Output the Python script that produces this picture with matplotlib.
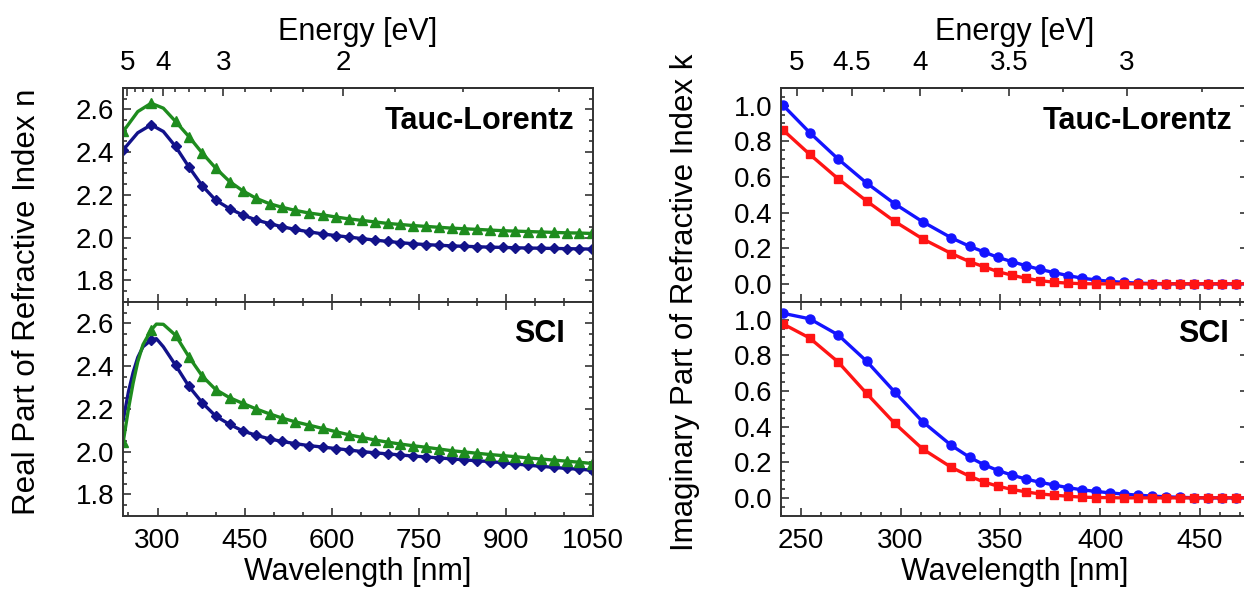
import numpy as np
import matplotlib
matplotlib.use("Agg")
import matplotlib.pyplot as plt
from matplotlib.ticker import MultipleLocator

plt.rcParams['font.family'] = ['Liberation Sans', 'DejaVu Sans']

# ---- real part n (left) ----
wl_n_tl = [241, 266, 289, 310, 331, 354, 377, 400, 424, 447, 470, 493, 515, 537,
           560, 584, 607, 630, 652, 674, 696, 718, 740, 762, 784, 806, 828, 850,
           872, 894, 916, 938, 960, 982, 1004, 1026, 1048]
n_tl_green = [2.496, 2.589, 2.628, 2.605, 2.543, 2.472, 2.395, 2.325, 2.262, 2.218,
              2.183, 2.158, 2.141, 2.127, 2.115, 2.106, 2.096, 2.087, 2.080, 2.073,
              2.066, 2.061, 2.056, 2.052, 2.048, 2.044, 2.041, 2.038, 2.035, 2.032,
              2.030, 2.028, 2.026, 2.024, 2.022, 2.021, 2.019]
n_tl_navy = [2.410, 2.490, 2.527, 2.496, 2.426, 2.330, 2.242, 2.175, 2.135, 2.105,
             2.082, 2.065, 2.050, 2.038, 2.027, 2.017, 2.009, 2.002, 1.995, 1.988,
             1.982, 1.976, 1.971, 1.967, 1.964, 1.961, 1.959, 1.957, 1.955, 1.954,
             1.952, 1.951, 1.950, 1.949, 1.948, 1.947, 1.946]

wl_n_sci = [241, 250, 258, 266, 275, 289, 298, 310, 331, 354, 377, 400, 424, 447,
            470, 493, 515, 537, 560, 584, 607, 630, 652, 674, 696, 718, 740, 762,
            784, 806, 828, 850, 872, 894, 916, 938, 960, 982, 1004, 1026, 1048]
n_sci_green = [2.046, 2.200, 2.320, 2.420, 2.500, 2.568, 2.596, 2.595, 2.544, 2.443,
               2.353, 2.290, 2.252, 2.225, 2.199, 2.176, 2.156, 2.139, 2.124, 2.108,
               2.093, 2.078, 2.066, 2.054, 2.044, 2.035, 2.027, 2.020, 2.012, 2.004,
               1.998, 1.992, 1.986, 1.981, 1.976, 1.970, 1.965, 1.960, 1.955, 1.950,
               1.944]
n_sci_navy = [2.147, 2.280, 2.370, 2.440, 2.490, 2.521, 2.528, 2.490, 2.404, 2.305,
              2.228, 2.166, 2.127, 2.096, 2.076, 2.059, 2.047, 2.037, 2.028, 2.021,
              2.014, 2.007, 2.000, 1.994, 1.989, 1.984, 1.979, 1.975, 1.970, 1.966,
              1.961, 1.957, 1.953, 1.948, 1.942, 1.936, 1.931, 1.926, 1.921, 1.917,
              1.913]

# ---- imaginary part k (right) ----
wl_k = [241, 254.5, 268.7, 283, 297, 311, 325.5, 334.7, 341.8, 348.9, 356, 363, 370,
        377, 384, 391, 398, 405, 412, 419, 426, 433, 440, 447, 454, 461, 468, 475]
k_tl_blue = [1.004, 0.849, 0.701, 0.566, 0.450, 0.349, 0.258, 0.210, 0.179, 0.148,
             0.124, 0.101, 0.081, 0.063, 0.046, 0.032, 0.022, 0.014, 0.008, 0.004,
             0.002, 0.001, 0.0, 0.0, 0.0, 0.0, 0.0, 0.0]
k_tl_red = [0.865, 0.727, 0.590, 0.465, 0.351, 0.253, 0.170, 0.124, 0.096, 0.068,
            0.048, 0.031, 0.018, 0.009, 0.004, 0.001, 0.0, 0.0, 0.0, 0.0, 0.0, 0.0,
            0.0, 0.0, 0.0, 0.0, 0.0, 0.0]
k_sci_blue = [1.036, 1.005, 0.915, 0.767, 0.595, 0.428, 0.294, 0.227, 0.186, 0.153,
              0.127, 0.105, 0.087, 0.072, 0.057, 0.045, 0.036, 0.028, 0.021, 0.015,
              0.010, 0.006, 0.003, 0.001, 0.0, 0.0, 0.0, 0.0]
k_sci_red = [0.977, 0.897, 0.763, 0.586, 0.419, 0.275, 0.171, 0.121, 0.089, 0.065,
             0.047, 0.033, 0.022, 0.015, 0.009, 0.004, 0.002, 0.001, 0.0, 0.0, 0.0,
             0.0, 0.0, 0.0, 0.0, 0.0, 0.0, 0.0]

NAVY = '#12128a'
GREEN = '#1e8c1e'
BLUE = '#1414ff'
RED = '#ff1414'
HC = 1239.84  # eV*nm


def nm2ev(x):
    x = np.asarray(x, dtype=float)
    with np.errstate(divide='ignore'):
        return HC / x


def style_axis(ax, xmaj, xmin, ymaj, ymin, top_ticks):
    ax.xaxis.set_major_locator(MultipleLocator(xmaj))
    ax.xaxis.set_minor_locator(MultipleLocator(xmin))
    ax.yaxis.set_major_locator(MultipleLocator(ymaj))
    ax.yaxis.set_minor_locator(MultipleLocator(ymin))
    ax.tick_params(which='both', direction='in', top=top_ticks, right=True,
                   labelsize=20, width=1.2, color='#333333')
    ax.tick_params(which='major', length=6)
    ax.tick_params(which='minor', length=3)
    ax.tick_params(axis='x', pad=9)
    ax.tick_params(axis='y', pad=6)
    for s in ax.spines.values():
        s.set_linewidth(1.4)
        s.set_color('#333333')


def energy_axis(ax, major, minor, labels):
    sec = ax.secondary_xaxis('top', functions=(nm2ev, nm2ev))
    sec.set_xticks(major)
    sec.set_xticklabels(labels)
    sec.xaxis.set_minor_locator(MultipleLocator(minor))
    sec.tick_params(which='both', direction='in', labelsize=20, width=1.2,
                    color='#333333', pad=8.5)
    sec.tick_params(which='major', length=6)
    sec.tick_params(which='minor', length=3)
    sec.spines['top'].set_linewidth(1.4)
    sec.set_xlabel('Energy [eV]', fontsize=22, labelpad=7)
    return sec


fig = plt.figure(figsize=(12.44, 5.92), dpi=100)

lx, lw = 0.0986, 0.3783
rx, rw = 0.6276, 0.3756
y_top, y_bot, h = 0.4904, 0.1289, 0.3612

ax_nt = fig.add_axes([lx, y_top, lw, h])
ax_nb = fig.add_axes([lx, y_bot, lw, h])
ax_kt = fig.add_axes([rx, y_top, rw, h])
ax_kb = fig.add_axes([rx, y_bot, rw, h])

line_kw = dict(lw=2.4)

# left, Tauc-Lorentz
mk_tl = [0, 2] + list(range(4, len(wl_n_tl)))
ax_nt.plot(wl_n_tl, n_tl_green, color=GREEN, marker='^', ms=7.5, markevery=mk_tl, **line_kw)
ax_nt.plot(wl_n_tl, n_tl_navy, color=NAVY, marker='D', ms=5.5, markevery=mk_tl, **line_kw)

# left, SCI
mk_sci_g = [0, 5] + list(range(8, len(wl_n_sci)))
mk_sci_b = [5] + list(range(8, len(wl_n_sci)))
ax_nb.plot(wl_n_sci, n_sci_navy, color=NAVY, marker='D', ms=5.5, markevery=mk_sci_b, **line_kw)
ax_nb.plot(wl_n_sci, n_sci_green, color=GREEN, marker='^', ms=7.5, markevery=mk_sci_g, **line_kw)

for ax in (ax_nt, ax_nb):
    ax.set_xlim(240, 1050)
    ax.set_ylim(1.7, 2.7)
    style_axis(ax, 150, 50, 0.2, 0.05, top_ticks=(ax is ax_nb))

# right, Tauc-Lorentz
ax_kt.plot(wl_k, k_tl_blue, color=BLUE, marker='o', ms=6.5, **line_kw)
ax_kt.plot(wl_k, k_tl_red, color=RED, marker='s', ms=5.5, **line_kw)

# right, SCI
ax_kb.plot(wl_k, k_sci_blue, color=BLUE, marker='o', ms=6.5, **line_kw)
ax_kb.plot(wl_k, k_sci_red, color=RED, marker='s', ms=5.5, **line_kw)

for ax in (ax_kt, ax_kb):
    ax.set_xlim(240, 474)
    ax.set_ylim(-0.1, 1.1)
    style_axis(ax, 50, 10, 0.2, 0.05, top_ticks=(ax is ax_kb))

for ax in (ax_nt, ax_kt):
    ax.tick_params(labelbottom=False)

energy_axis(ax_nt, [5, 4, 3, 2], 0.25, ['5', '4', '3', '2'])
energy_axis(ax_kt, [5, 4.5, 4, 3.5, 3], 0.25, ['5', '4.5', '4', '3.5', '3'])

for ax in (ax_nb, ax_kb):
    ax.set_xlabel('Wavelength [nm]', fontsize=22, labelpad=2)

fig.text(0.022, 0.49, 'Real Part of Refractive Index n', rotation=90,
         fontsize=22.5, ha='center', va='center')
fig.text(0.551, 0.49, 'Imaginary Part of Refractive Index k', rotation=90,
         fontsize=22.5, ha='center', va='center')

txt_kw = dict(fontsize=22, fontweight='bold', ha='right', va='center')
ax_nt.text(0.96, 0.845, 'Tauc-Lorentz', transform=ax_nt.transAxes, **txt_kw)
ax_nb.text(0.94, 0.85, 'SCI', transform=ax_nb.transAxes, **txt_kw)
ax_kt.text(0.967, 0.845, 'Tauc-Lorentz', transform=ax_kt.transAxes, **txt_kw)
ax_kb.text(0.96, 0.85, 'SCI', transform=ax_kb.transAxes, **txt_kw)

fig.savefig('out.png', dpi=100)
